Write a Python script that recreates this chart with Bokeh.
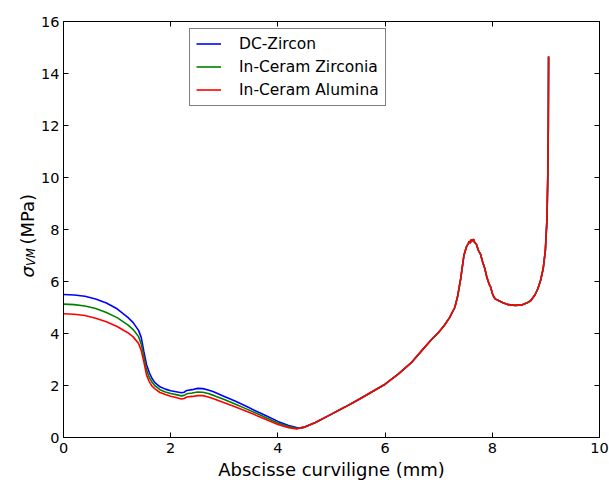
import math
from bokeh.plotting import figure
from bokeh.layouts import row
from bokeh.models import Range1d, LinearAxis, Legend, LegendItem, FixedTicker
from bokeh.core.properties import value
from bokeh.embed import file_html
from bokeh.resources import INLINE

# ---- data ----
x_left = [0.0, 0.2, 0.4, 0.6, 0.8, 1.0, 1.2, 1.3, 1.4, 1.45, 1.5, 1.55, 1.6, 1.65,
          1.7, 1.8, 1.9, 2.0, 2.1, 2.2, 2.25, 2.3, 2.4, 2.5, 2.6, 2.7, 2.8, 3.0,
          3.2, 3.4, 3.6, 3.8, 4.0, 4.2, 4.35]
blue_left = [5.50, 5.48, 5.43, 5.33, 5.17, 4.95, 4.62, 4.42, 4.12, 3.85, 3.30, 2.80,
             2.50, 2.28, 2.12, 1.95, 1.86, 1.80, 1.76, 1.72, 1.74, 1.81, 1.84, 1.89,
             1.88, 1.83, 1.76, 1.58, 1.40, 1.21, 1.01, 0.82, 0.62, 0.46, 0.38]
green_left = [5.13, 5.11, 5.06, 4.96, 4.81, 4.61, 4.33, 4.15, 3.88, 3.60, 3.10, 2.60,
              2.32, 2.13, 2.00, 1.84, 1.75, 1.69, 1.65, 1.60, 1.62, 1.68, 1.71, 1.75,
              1.74, 1.69, 1.62, 1.46, 1.29, 1.11, 0.93, 0.74, 0.56, 0.42, 0.35]
red_left = [4.76, 4.74, 4.69, 4.59, 4.45, 4.27, 4.03, 3.87, 3.62, 3.35, 2.90, 2.40,
            2.15, 1.98, 1.88, 1.73, 1.65, 1.59, 1.54, 1.48, 1.50, 1.56, 1.58, 1.61,
            1.61, 1.56, 1.49, 1.34, 1.18, 1.02, 0.85, 0.67, 0.50, 0.38, 0.33]

x_right = [4.4, 4.5, 4.7, 5.0, 5.25, 5.5, 5.75, 6.0, 6.25, 6.5, 6.7, 6.85, 7.0, 7.1,
           7.2, 7.3, 7.35, 7.41, 7.47, 7.52, 7.55, 7.57, 7.59, 7.61, 7.63, 7.65,
           7.67, 7.70, 7.74, 7.78, 7.82, 7.86, 7.90, 7.94, 7.97, 8.00, 8.03, 8.06,
           8.09, 8.12, 8.2, 8.3, 8.43, 8.55, 8.65, 8.72, 8.8, 8.85, 8.9, 8.95, 8.99,
           9.02, 9.035, 9.045, 9.05]
shared_right = [0.36, 0.40, 0.58, 0.90, 1.17, 1.45, 1.75, 2.05, 2.45, 2.90, 3.38, 3.73,
                4.05, 4.30, 4.60, 5.00, 5.40, 6.10, 7.00, 7.35, 7.45, 7.55, 7.48, 7.62,
                7.55, 7.63, 7.50, 7.45, 7.20, 7.05, 6.75, 6.50, 6.15, 5.90, 5.78, 5.55,
                5.40, 5.32, 5.30, 5.26, 5.18, 5.11, 5.08, 5.10, 5.18, 5.27, 5.50, 5.72,
                6.04, 6.50, 7.20, 8.40, 10.0, 12.0, 14.65]

series_names = ["DC-Zircon", "In-Ceram Zirconia", "In-Ceram Alumina"]
series_colors = ["#0000ff", "#008000", "#ff0000"]
series_left = [blue_left, green_left, red_left]

x_ticks = [0, 2, 4, 6, 8, 10]
y_ticks = [0, 2, 4, 6, 8, 10, 12, 14, 16]

x_label = "Abscisse curviligne (mm)"
y_label_parts = ["σ", "VM", "(MPa)"]

FONT = "DejaVu Sans"
W, H = 609, 483
STRIP_W = 38          # left strip holding the y-axis label
TOP, BOTTOM = 21, 46  # borders of the main plot frame

y_range = Range1d(0, 16)

# ---- left strip (frame aligned with the main frame by the row layout) ----
strip = figure(width=STRIP_W, height=H, x_range=Range1d(0, STRIP_W), y_range=y_range,
               output_backend="svg", toolbar_location=None,
               x_axis_type=None, y_axis_type=None,
               min_border_left=0, min_border_right=0,
               min_border_top=TOP, min_border_bottom=BOTTOM)
strip.grid.visible = False
strip.outline_line_color = None
strip.background_fill_color = "white"
strip.border_fill_color = "white"
# y-axis label  sigma_VM (MPa), rotated
strip.text(x=[26.5], y=[6.15], text=[y_label_parts[0]], angle=math.pi / 2,
           text_font=value(FONT), text_font_size="18px", text_font_style="italic",
           text_align="left", text_baseline="middle", text_color="black")
strip.text(x=[30.5], y=[6.60], text=[y_label_parts[1]], angle=math.pi / 2,
           text_font=value(FONT), text_font_size="11.5px", text_font_style="italic",
           text_align="left", text_baseline="middle", text_color="black")
strip.text(x=[26.5], y=[7.42], text=[y_label_parts[2]], angle=math.pi / 2,
           text_font=value(FONT), text_font_size="18px",
           text_align="left", text_baseline="middle", text_color="black")

# ---- main plot ----
p = figure(width=W - STRIP_W, height=H, x_range=Range1d(0, 10), y_range=y_range,
           output_backend="svg", toolbar_location=None,
           min_border_left=25, min_border_right=10, min_border_top=TOP,
           min_border_bottom=BOTTOM)
p.grid.visible = False
p.outline_line_color = "black"
p.outline_line_width = 1
p.background_fill_color = "white"
p.border_fill_color = "white"

def style_axis(ax, ticks, show_labels):
    ax.ticker = FixedTicker(ticks=ticks)
    ax.major_tick_in = 5
    ax.major_tick_out = 0
    ax.major_tick_line_color = "black"
    ax.minor_tick_line_color = None
    ax.axis_line_color = "black"
    ax.major_label_text_font = FONT
    if show_labels:
        ax.major_label_text_color = "black"
        ax.major_label_text_font_size = "14.5px"
        ax.major_label_standoff = 5
    else:
        ax.major_label_text_color = None
        ax.major_label_text_font_size = "1px"
        ax.major_label_standoff = 0

style_axis(p.xaxis[0], x_ticks, True)
style_axis(p.yaxis[0], y_ticks, True)
p.yaxis[0].major_label_standoff = 4
p.xaxis[0].axis_label = x_label
p.xaxis[0].axis_label_text_font = FONT
p.xaxis[0].axis_label_text_font_size = "18px"
p.xaxis[0].axis_label_text_font_style = "normal"
p.xaxis[0].axis_label_text_color = "black"
p.xaxis[0].axis_label_standoff = 3

top_ax = LinearAxis()
style_axis(top_ax, x_ticks, False)
p.add_layout(top_ax, "above")
right_ax = LinearAxis()
style_axis(right_ax, y_ticks, False)
p.add_layout(right_ax, "right")

items = []
for name, color, left in zip(series_names, series_colors, series_left):
    r = p.line(x_left + x_right, left + shared_right, line_color=color, line_width=1.6)
    items.append(LegendItem(label=name, renderers=[r]))

legend = Legend(items=items, location=(126, 331.5))
legend.border_line_color = "black"
legend.border_line_width = 1
legend.background_fill_color = "white"
legend.background_fill_alpha = 1
legend.label_text_font = FONT
legend.label_text_font_size = "15.5px"
legend.label_text_color = "black"
legend.glyph_width = 25
legend.glyph_height = 17
legend.label_height = 17
legend.spacing = 5
legend.padding = 6
legend.label_standoff = 18
legend.margin = 0
p.add_layout(legend)

layout = row(strip, p, spacing=0)
open("out.html", "w").write(file_html(layout, INLINE))
